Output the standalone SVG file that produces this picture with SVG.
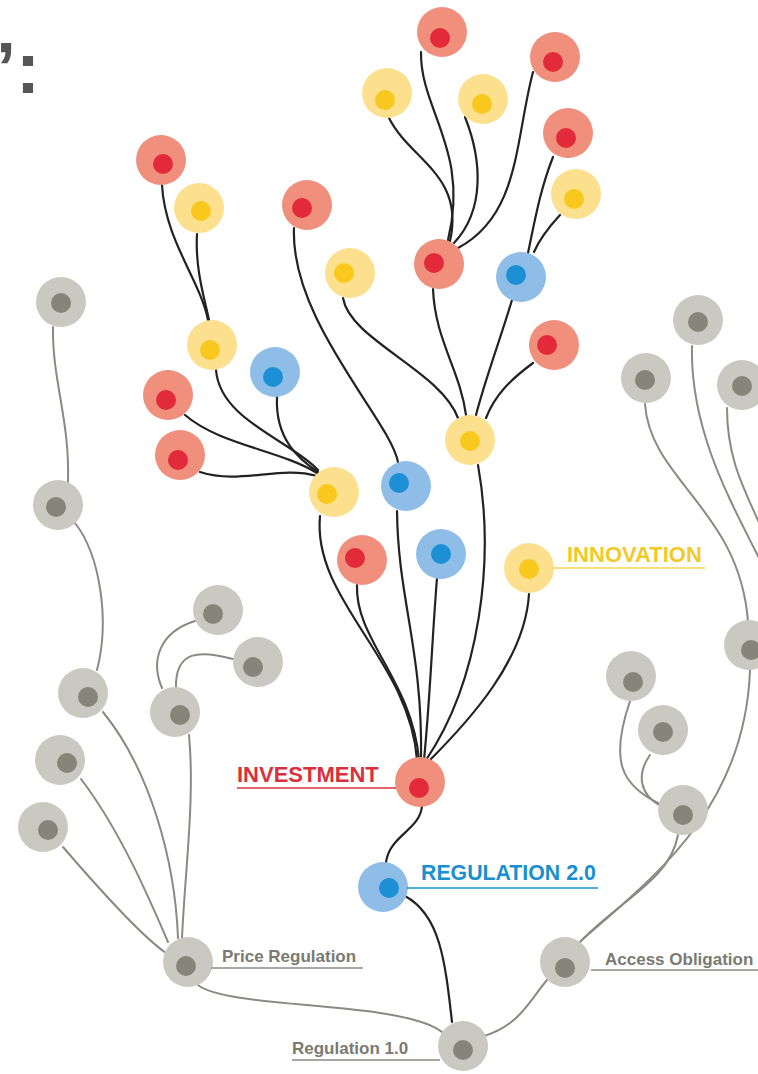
<svg xmlns="http://www.w3.org/2000/svg" width="758" height="1074" viewBox="0 0 758 1074">
<style>
.bk{fill:none;stroke:#222;stroke-width:2.2;stroke-linecap:round}
.gy{fill:none;stroke:#8a8a84;stroke-width:2;stroke-linecap:round}
.ro{fill:#ef8f7c}.ri{fill:#e22a3a}
.yo{fill:#fde08e}.yi{fill:#f9c81e}
.bo{fill:#8ebee8}.bi{fill:#1c8fd5}
.go{fill:#c9c9c1}.gi{fill:#85857a}
.lbl{font-family:"Liberation Sans",Arial,sans-serif;font-weight:bold}
.big{font-size:22px}
.sm{font-size:17px;fill:#7a7a72}
</style>
<rect width="758" height="1074" fill="#fff"/>
<text x="-4" y="93" class="lbl" font-size="72" fill="#555">’:</text>
<g id="connectors">
<!-- colored tree -->
<path class="bk" d="M422,806 C420,830 390,835 386,862"/>
<path class="bk" d="M405,896 C440,915 445,960 452,1022"/>
<path class="bk" d="M320,516 C312,600 410,660 417,760"/>
<path class="bk" d="M357,585 C355,640 412,680 419,760"/>
<path class="bk" d="M397,511 C398,600 423,650 421,760"/>
<path class="bk" d="M437,578 C432,640 430,700 424,760"/>
<path class="bk" d="M478,465 C495,560 480,680 426,760"/>
<path class="bk" d="M529,594 C525,660 470,720 428,762"/>
<path class="bk" d="M294,228 C290,320 390,420 398,462"/>
<path class="bk" d="M343,298 C350,340 440,370 458,418"/>
<path class="bk" d="M433,289 C435,340 460,370 466,415"/>
<path class="bk" d="M512,300 C500,340 485,380 476,415"/>
<path class="bk" d="M533,363 C510,380 495,395 486,418"/>
<path class="bk" d="M421,52 C420,110 470,150 448,240"/>
<path class="bk" d="M389,118 C410,160 465,175 450,241"/>
<path class="bk" d="M465,117 C482,160 485,210 454,243"/>
<path class="bk" d="M533,72 C515,140 520,215 458,248"/>
<path class="bk" d="M553,157 C540,190 535,220 528,253"/>
<path class="bk" d="M560,215 C548,228 540,238 534,252"/>
<path class="bk" d="M162,185 C165,240 200,280 208,320"/>
<path class="bk" d="M197,234 C195,270 205,300 209,320"/>
<path class="bk" d="M216,370 C220,420 290,440 318,470"/>
<path class="bk" d="M277,397 C275,440 300,460 318,472"/>
<path class="bk" d="M185,415 C220,445 280,450 317,473"/>
<path class="bk" d="M200,472 C240,485 280,465 317,476"/>
<!-- gray tree -->
<path class="gy" d="M53,327 C52,380 70,420 68,482"/>
<path class="gy" d="M75,523 C100,555 110,620 97,670"/>
<path class="gy" d="M195,621 C160,632 150,660 162,688"/>
<path class="gy" d="M233,659 C200,650 175,650 176,688"/>
<path class="gy" d="M103,712 C150,770 175,860 178,938"/>
<path class="gy" d="M189,735 C195,800 185,870 182,938"/>
<path class="gy" d="M81,779 C120,830 150,900 168,942"/>
<path class="gy" d="M63,847 C100,890 140,935 166,953"/>
<path class="gy" d="M198,985 C230,1010 400,1000 442,1032"/>
<path class="gy" d="M484,1036 C520,1025 530,1000 547,980"/>
<path class="gy" d="M580,942 C620,900 670,880 678,835"/>
<path class="gy" d="M582,940 C650,880 745,810 750,670"/>
<path class="gy" d="M630,701 C610,760 620,785 660,804"/>
<path class="gy" d="M650,755 C636,775 640,795 661,806"/>
<path class="gy" d="M645,404 C650,480 740,510 748,622"/>
<path class="gy" d="M692,346 C690,430 730,500 760,560"/>
<path class="gy" d="M727,408 C727,460 745,490 760,525"/>
</g>
<g id="n1"><circle class="ro" cx="442" cy="32" r="25"/><circle class="ri" cx="440" cy="38" r="10"/></g>
<g id="n2"><circle class="ro" cx="555" cy="57" r="25"/><circle class="ri" cx="553" cy="62" r="10"/></g>
<g id="n3"><circle class="yo" cx="387" cy="93" r="25"/><circle class="yi" cx="385" cy="100" r="10"/></g>
<g id="n4"><circle class="yo" cx="483" cy="99" r="25"/><circle class="yi" cx="482" cy="104" r="10"/></g>
<g id="n5"><circle class="ro" cx="568" cy="133" r="25"/><circle class="ri" cx="566" cy="138" r="10"/></g>
<g id="n6"><circle class="yo" cx="576" cy="194" r="25"/><circle class="yi" cx="574" cy="199" r="10"/></g>
<g id="n7"><circle class="ro" cx="439" cy="264" r="25"/><circle class="ri" cx="434" cy="263" r="10"/></g>
<g id="n8"><circle class="bo" cx="521" cy="277" r="25"/><circle class="bi" cx="516" cy="275" r="10"/></g>
<g id="n9"><circle class="ro" cx="161" cy="160" r="25"/><circle class="ri" cx="163" cy="164" r="10"/></g>
<g id="n10"><circle class="yo" cx="199" cy="208" r="25"/><circle class="yi" cx="201" cy="211" r="10"/></g>
<g id="n11"><circle class="ro" cx="307" cy="205" r="25"/><circle class="ri" cx="302" cy="208" r="10"/></g>
<g id="n12"><circle class="yo" cx="350" cy="273" r="25"/><circle class="yi" cx="344" cy="273" r="10"/></g>
<g id="n13"><circle class="yo" cx="212" cy="345" r="25"/><circle class="yi" cx="210" cy="350" r="10"/></g>
<g id="n14"><circle class="bo" cx="275" cy="372" r="25"/><circle class="bi" cx="273" cy="377" r="10"/></g>
<g id="n15"><circle class="ro" cx="554" cy="345" r="25"/><circle class="ri" cx="547" cy="345" r="10"/></g>
<g id="n16"><circle class="ro" cx="168" cy="395" r="25"/><circle class="ri" cx="166" cy="400" r="10"/></g>
<g id="n17"><circle class="ro" cx="180" cy="455" r="25"/><circle class="ri" cx="178" cy="460" r="10"/></g>
<g id="n18"><circle class="yo" cx="470" cy="440" r="25"/><circle class="yi" cx="470" cy="441" r="10"/></g>
<g id="n19"><circle class="yo" cx="334" cy="492" r="25"/><circle class="yi" cx="327" cy="494" r="10"/></g>
<g id="n20"><circle class="bo" cx="406" cy="486" r="25"/><circle class="bi" cx="399" cy="483" r="10"/></g>
<g id="n21"><circle class="ro" cx="362" cy="560" r="25"/><circle class="ri" cx="355" cy="558" r="10"/></g>
<g id="n22"><circle class="bo" cx="441" cy="554" r="25"/><circle class="bi" cx="441" cy="554" r="10"/></g>
<g id="innovation"><circle class="yo" cx="529" cy="568" r="25"/><circle class="yi" cx="529" cy="569" r="10"/>
<line x1="553" y1="568" x2="705" y2="568" stroke="#f6d44a" stroke-width="1.5"/>
<text x="567" y="562" class="lbl big" fill="#f3c92a">INNOVATION</text></g>
<g id="investment"><circle class="ro" cx="420" cy="782" r="25"/><circle class="ri" cx="419" cy="788" r="10"/>
<line x1="237" y1="788" x2="396" y2="788" stroke="#d8303c" stroke-width="1.5"/>
<text x="237" y="782" class="lbl big" fill="#d8303c">INVESTMENT</text></g>
<g id="regulation2"><circle class="bo" cx="383" cy="887" r="25"/><circle class="bi" cx="389" cy="888" r="10"/>
<line x1="407" y1="888" x2="598" y2="888" stroke="#1a8fcf" stroke-width="1.5"/>
<text x="421" y="880" class="lbl" font-size="21.3" fill="#1a8fcf">REGULATION 2.0</text></g>
<g id="g1"><circle class="go" cx="61" cy="302" r="25"/><circle class="gi" cx="61" cy="303" r="10"/></g>
<g id="g2"><circle class="go" cx="58" cy="505" r="25"/><circle class="gi" cx="56" cy="507" r="10"/></g>
<g id="g3"><circle class="go" cx="83" cy="693" r="25"/><circle class="gi" cx="88" cy="697" r="10"/></g>
<g id="g4"><circle class="go" cx="218" cy="610" r="25"/><circle class="gi" cx="213" cy="614" r="10"/></g>
<g id="g5"><circle class="go" cx="258" cy="662" r="25"/><circle class="gi" cx="253" cy="667" r="10"/></g>
<g id="g6"><circle class="go" cx="175" cy="712" r="25"/><circle class="gi" cx="180" cy="715" r="10"/></g>
<g id="g7"><circle class="go" cx="60" cy="760" r="25"/><circle class="gi" cx="67" cy="763" r="10"/></g>
<g id="g8"><circle class="go" cx="43" cy="827" r="25"/><circle class="gi" cx="48" cy="830" r="10"/></g>
<g id="price"><circle class="go" cx="188" cy="962" r="25"/><circle class="gi" cx="186" cy="966" r="10"/>
<line x1="211" y1="968" x2="363" y2="968" stroke="#8a8a84" stroke-width="1.5"/>
<text x="222" y="962" class="lbl sm">Price Regulation</text></g>
<g id="reg1"><circle class="go" cx="463" cy="1046" r="25"/><circle class="gi" cx="463" cy="1050" r="10"/>
<line x1="292" y1="1060" x2="440" y2="1060" stroke="#8a8a84" stroke-width="1.5"/>
<text x="292" y="1054" class="lbl sm">Regulation 1.0</text></g>
<g id="access"><circle class="go" cx="565" cy="962" r="25"/><circle class="gi" cx="565" cy="968" r="10"/>
<line x1="591" y1="970" x2="758" y2="970" stroke="#8a8a84" stroke-width="1.5"/>
<text x="605" y="965" class="lbl sm">Access Obligation</text></g>
<g id="g12"><circle class="go" cx="631" cy="676" r="25"/><circle class="gi" cx="633" cy="682" r="10"/></g>
<g id="g13"><circle class="go" cx="663" cy="730" r="25"/><circle class="gi" cx="663" cy="732" r="10"/></g>
<g id="g14"><circle class="go" cx="683" cy="810" r="25"/><circle class="gi" cx="683" cy="815" r="10"/></g>
<g id="g15"><circle class="go" cx="749" cy="645" r="25"/><circle class="gi" cx="751" cy="650" r="10"/></g>
<g id="g16"><circle class="go" cx="698" cy="320" r="25"/><circle class="gi" cx="698" cy="322" r="10"/></g>
<g id="g17"><circle class="go" cx="646" cy="378" r="25"/><circle class="gi" cx="645" cy="380" r="10"/></g>
<g id="g18"><circle class="go" cx="742" cy="385" r="25"/><circle class="gi" cx="742" cy="386" r="10"/></g>
</svg>
